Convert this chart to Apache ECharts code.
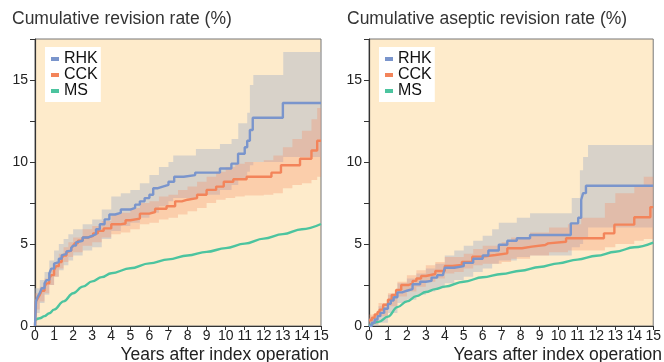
<!DOCTYPE html>
<html>
<head>
<meta charset="utf-8">
<script src="https://cdn.jsdelivr.net/npm/echarts@6/dist/echarts.min.js"></script>
<style>
html,body{margin:0;padding:0;background:#fff;}
#c{width:664px;height:362px;}
</style>
</head>
<body>
<div id="c"></div>
<script>
// ---------- DATA ----------
const titles = ['Cumulative revision rate (%)', 'Cumulative aseptic revision rate (%)'];
const xName = 'Years after index operation';
const seriesNames = ['RHK', 'CCK', 'MS'];

// Left panel: all-cause revision
const L_rhkYears = [0, 0.05, 0.15, 0.25, 0.35, 0.5, 0.6, 0.75, 0.85, 1.0, 1.1, 1.25, 1.4, 1.5, 1.65, 1.75, 1.9, 2.0, 2.15, 2.25, 2.5, 2.8, 3.0, 3.2, 3.4, 3.65, 3.9, 4.2, 4.5, 5.0, 5.25, 5.5, 5.75, 6.0, 6.2, 6.45, 6.7, 7.0, 7.3, 7.8, 8.4, 9.7, 10.3, 10.65, 11.0, 11.13, 11.27, 11.42, 13.0, 15];
const L_rhkVals  = [0, 1.5, 1.8, 2.0, 2.3, 2.6, 2.8, 3.2, 3.5, 3.8, 3.9, 4.1, 4.3, 4.4, 4.55, 4.6, 4.75, 4.9, 5.1, 5.2, 5.4, 5.5, 5.6, 5.9, 6.2, 6.5, 6.8, 6.9, 7.1, 7.2, 7.4, 7.6, 7.8, 8.0, 8.4, 8.5, 8.6, 8.8, 9.1, 9.2, 9.35, 9.6, 9.9, 10.5, 10.9, 11.3, 11.95, 12.7, 13.6, 13.6];
const L_rhkBandYears = [0, 0.25, 0.5, 0.75, 1.0, 1.25, 1.5, 1.75, 2.0, 2.5, 3.0, 3.5, 4.0, 4.5, 5.0, 5.5, 6.0, 6.5, 7.0, 7.25, 8.44, 9.7, 10.31, 10.66, 11.13, 11.27, 11.45, 13.02, 15];
const L_rhkLower = [0.8, 1.4, 1.9, 2.5, 3.0, 3.4, 3.7, 4.0, 4.3, 4.6, 4.8, 5.3, 5.8, 6.1, 6.3, 6.6, 6.9, 7.3, 7.6, 7.8, 8.0, 8.3, 8.6, 9.0, 9.4, 9.8, 10.0, 10.3, 10.3];
const L_rhkUpper = [2.3, 2.8, 3.3, 4.0, 4.6, 5.0, 5.3, 5.6, 5.9, 6.2, 6.5, 7.1, 7.9, 8.1, 8.3, 8.7, 9.2, 9.7, 10.0, 10.4, 10.8, 11.1, 11.4, 12.36, 13.0, 14.7, 15.3, 16.7, 16.7];

const L_cckYears = [0, 0.05, 0.15, 0.25, 0.35, 0.5, 0.6, 0.75, 0.85, 1.0, 1.1, 1.25, 1.4, 1.5, 1.65, 1.75, 1.9, 2.0, 2.1, 2.25, 2.5, 2.8, 3.05, 3.3, 3.6, 4.0, 4.45, 4.75, 5.0, 5.5, 6.0, 6.3, 6.9, 7.35, 7.7, 8.0, 8.5, 9.0, 9.5, 9.9, 10.4, 11.1, 12.4, 12.9, 13.9, 14.5, 14.8, 15];
const L_cckVals  = [0, 1.5, 1.7, 1.9, 2.15, 2.4, 2.6, 2.9, 3.1, 3.4, 3.65, 3.9, 4.15, 4.3, 4.5, 4.6, 4.75, 4.9, 5.05, 5.2, 5.4, 5.5, 5.65, 5.8, 5.95, 6.2, 6.25, 6.45, 6.55, 6.85, 6.95, 7.15, 7.3, 7.6, 7.7, 7.8, 8.0, 8.3, 8.5, 8.8, 8.95, 9.1, 9.35, 9.8, 10.2, 10.7, 11.3, 11.3];
const L_cckBandYears = [0, 0.25, 0.5, 0.75, 1.0, 1.25, 1.5, 1.75, 2.0, 2.5, 3.0, 3.5, 4.0, 4.5, 5.0, 5.5, 6.0, 6.5, 7.0, 7.5, 8.0, 8.5, 9.0, 9.5, 10.0, 10.5, 11.0, 12.0, 12.5, 13.0, 13.5, 14.0, 14.5, 14.8, 15];
const L_cckLower = [1.0, 1.5, 2.0, 2.5, 3.0, 3.5, 3.9, 4.2, 4.5, 4.9, 5.1, 5.4, 5.6, 5.7, 5.9, 6.2, 6.3, 6.5, 6.6, 6.8, 7.0, 7.2, 7.5, 7.7, 7.8, 7.9, 7.95, 8.0, 8.1, 8.4, 8.6, 8.7, 8.9, 9.1, 9.1];
const L_cckUpper = [2.0, 2.4, 2.9, 3.4, 3.9, 4.4, 4.8, 5.1, 5.4, 5.9, 6.1, 6.4, 6.8, 6.9, 7.2, 7.5, 7.6, 7.9, 8.0, 8.3, 8.5, 8.8, 9.1, 9.4, 9.7, 9.9, 10.0, 10.1, 10.4, 10.9, 11.4, 11.9, 12.6, 13.3, 13.3];

const L_msYears = [0, 0.25, 0.5, 0.75, 1, 1.5, 2, 2.5, 3, 3.5, 4, 5, 6, 7, 8, 9, 10, 11, 12, 13, 14, 15];
const L_msVals  = [0.35, 0.47, 0.6, 0.78, 1.0, 1.5, 2.0, 2.4, 2.72, 2.98, 3.22, 3.52, 3.82, 4.06, 4.3, 4.52, 4.75, 5.02, 5.33, 5.6, 5.9, 6.22];

// Right panel: aseptic revision
const R_rhkYears = [0, 0.15, 0.3, 0.45, 0.6, 0.8, 1.0, 1.15, 1.3, 1.5, 1.75, 2.0, 2.3, 2.7, 3.0, 3.3, 3.6, 3.9, 4.0, 4.5, 5.0, 5.5, 6.0, 6.3, 6.85, 7.3, 7.8, 8.5, 10.65, 11.04, 11.2, 11.3, 11.45, 15];
const R_rhkVals  = [0, 0.2, 0.4, 0.6, 0.8, 1.05, 1.35, 1.55, 1.75, 2.05, 2.15, 2.25, 2.55, 2.7, 2.75, 2.95, 3.1, 3.2, 3.55, 3.65, 3.85, 4.1, 4.3, 4.6, 4.95, 5.2, 5.35, 5.55, 6.26, 6.6, 7.7, 8.1, 8.55, 8.55];
const R_rhkBandYears = [0, 0.5, 1.0, 1.5, 2.0, 2.5, 3.0, 3.5, 4.0, 4.5, 5.0, 5.5, 6.0, 6.5, 6.85, 7.8, 8.5, 10.7, 11.13, 11.3, 11.56, 15];
const R_rhkLower = [0, 0.2, 0.8, 1.4, 1.6, 1.9, 2.1, 2.3, 2.6, 2.8, 3.0, 3.3, 3.5, 3.8, 4.0, 4.2, 4.3, 4.8, 5.0, 5.4, 6.0, 6.0];
const R_rhkUpper = [0.5, 1.2, 1.9, 2.6, 2.9, 3.2, 3.5, 3.8, 4.3, 4.6, 4.9, 5.2, 5.5, 5.9, 6.3, 6.6, 6.87, 7.8, 9.5, 10.3, 11.04, 11.04];

const R_cckYears = [0, 0.15, 0.3, 0.45, 0.56, 0.75, 1.0, 1.2, 1.43, 1.7, 2.1, 2.3, 2.5, 2.75, 3.0, 3.5, 4.0, 4.4, 4.9, 5.45, 6.0, 6.67, 7.3, 8.07, 8.6, 9.3, 9.45, 10.4, 12.4, 12.95, 14.0, 14.85, 15];
const R_cckVals  = [0.35, 0.5, 0.7, 0.85, 1.0, 1.3, 1.6, 1.9, 2.2, 2.5, 2.6, 2.75, 2.9, 3.05, 3.17, 3.35, 3.66, 3.72, 3.9, 4.23, 4.33, 4.43, 4.74, 4.84, 4.94, 5.04, 5.14, 5.35, 5.65, 6.18, 6.63, 7.25, 7.25];
const R_cckBandYears = [0, 0.5, 1.0, 1.5, 2.0, 2.5, 3.0, 3.5, 4.0, 4.5, 5.0, 5.5, 6.0, 7.0, 7.5, 8.5, 9.5, 10.5, 11.2, 12.45, 13.0, 14.0, 14.5, 15];
const R_cckLower = [0.1, 0.6, 1.2, 1.8, 2.1, 2.4, 2.7, 2.9, 3.2, 3.3, 3.5, 3.7, 3.8, 3.9, 4.1, 4.3, 4.5, 4.6, 4.6, 4.8, 5.0, 5.2, 5.3, 5.3];
const R_cckUpper = [0.7, 1.4, 2.0, 2.7, 3.1, 3.4, 3.7, 3.9, 4.2, 4.2, 4.4, 4.7, 4.9, 5.1, 5.4, 5.7, 6.0, 6.2, 6.6, 7.5, 8.1, 8.5, 9.1, 9.1];

const R_msYears = [0, 0.5, 1, 1.5, 2, 2.5, 3, 3.5, 4, 5, 6, 7, 8, 9, 10, 11, 12, 13, 14, 15];
const R_msVals  = [0, 0.25, 0.57, 1.15, 1.5, 1.82, 2.07, 2.25, 2.4, 2.7, 2.97, 3.17, 3.37, 3.6, 3.82, 4.05, 4.28, 4.53, 4.8, 5.08];

const xTicks = [0, 1, 2, 3, 4, 5, 6, 7, 8, 9, 10, 11, 12, 13, 14, 15];
const yLabelValues = [0, 5, 10, 15];

// ---------- STYLE ----------
const FONT = '"Liberation Sans", Arial, Helvetica, sans-serif';
const C_RHK = '#7A95CC', C_CCK = '#F3845A', C_MS = '#4CC49F';
const BAND_RHK = 'rgba(170,180,200,0.45)';
const BAND_CCK = 'rgba(245,140,100,0.30)';
const PEACH = '#FEEBCB';

function zip(a, b) { return a.map((v, i) => [v, b[i]]); }

function band(idx, name, yrs, lo, hi, color) {
  return {
    type: 'custom', name: name, xAxisIndex: idx, yAxisIndex: idx, silent: true, z: 1,
    data: [[yrs[0], lo[0]]], encode: { x: 0, y: 1 },
    renderItem: function (params, api) {
      const pts = []; const n = yrs.length;
      for (let i = 0; i < n; i++) {
        pts.push(api.coord([yrs[i], hi[i]]));
        if (i < n - 1) pts.push(api.coord([yrs[i + 1], hi[i]]));
      }
      for (let i = n - 1; i >= 0; i--) {
        if (i < n - 1) pts.push(api.coord([yrs[i + 1], lo[i]]));
        pts.push(api.coord([yrs[i], lo[i]]));
      }
      return { type: 'polygon', shape: { points: pts }, style: { fill: color } };
    }
  };
}
function stepLine(idx, name, yrs, vals, color) {
  return { type: 'line', name: name, xAxisIndex: idx, yAxisIndex: idx, step: 'end', showSymbol: false,
    symbol: 'none', z: 3, lineStyle: { width: 2.4, color: color }, itemStyle: { color: color },
    data: zip(yrs, vals), animation: false };
}
function smoothLine(idx, name, yrs, vals, color) {
  return { type: 'line', name: name, xAxisIndex: idx, yAxisIndex: idx, smooth: 0.4, smoothMonotone: 'x',
    showSymbol: false, symbol: 'none', z: 3, lineStyle: { width: 2.4, color: color }, itemStyle: { color: color },
    data: zip(yrs, vals), animation: false };
}

function xAxisCfg(idx) {
  return { gridIndex: idx, type: 'value', min: xTicks[0], max: xTicks[xTicks.length - 1], interval: 1,
    axisLine: { show: true, onZero: false, lineStyle: { color: '#333', width: 1.2 } },
    axisTick: { show: true, length: 4, lineStyle: { color: '#333' } },
    axisLabel: { fontSize: 14, color: '#222', margin: 3, fontFamily: FONT },
    splitLine: { show: false } };
}
function yAxisCfg(idx) {
  return { gridIndex: idx, type: 'value', min: 0, max: 17.5, interval: 2.5,
    axisLine: { show: true, onZero: false, lineStyle: { color: '#333', width: 1.2 } },
    axisTick: { show: true, length: 5, lineStyle: { color: '#333' } },
    axisLabel: { fontSize: 14, color: '#222', margin: 7, fontFamily: FONT,
      formatter: v => (yLabelValues.indexOf(v) >= 0 ? String(v) : '') },
    splitLine: { show: false } };
}
function legendCfg(left) {
  return { orient: 'vertical', left: left, top: 47, backgroundColor: '#fff', padding: [4, 3, 3, 6],
    itemGap: 0, itemWidth: 8, itemHeight: 4, icon: 'rect', selectedMode: false,
    textStyle: { fontSize: 16, color: '#111', fontFamily: FONT, lineHeight: 16 },
    data: seriesNames.map((n, i) => ({ name: n, itemStyle: { color: [C_RHK, C_CCK, C_MS][i] } })) };
}

const chart = echarts.init(document.getElementById('c'), null, { renderer: 'canvas' });
chart.setOption({
  animation: false,
  backgroundColor: '#fff',
  textStyle: { fontFamily: FONT },
  grid: [
    { left: 35, right: 343, top: 39, bottom: 36, show: true, backgroundColor: PEACH, borderColor: '#777', borderWidth: 1 },
    { left: 369, right: 8, top: 39, bottom: 36, show: true, backgroundColor: PEACH, borderColor: '#777', borderWidth: 1 }
  ],
  xAxis: [xAxisCfg(0), xAxisCfg(1)],
  yAxis: [yAxisCfg(0), yAxisCfg(1)],
  legend: [legendCfg(45), legendCfg(379)],
  graphic: [
    { type: 'text', left: 12, top: 10, style: { text: titles[0], font: '17.5px ' + FONT, fill: '#333' } },
    { type: 'text', left: 347, top: 10, style: { text: titles[1], font: '17.5px ' + FONT, fill: '#333' } },
    { type: 'text', right: 335, top: 346, style: { text: xName, font: '17.5px ' + FONT, fill: '#222' } },
    { type: 'text', right: 2, top: 346, style: { text: xName, font: '17.5px ' + FONT, fill: '#222' } }
  ],
  series: [
    band(0, 'RHK CI', L_rhkBandYears, L_rhkLower, L_rhkUpper, BAND_RHK),
    band(0, 'CCK CI', L_cckBandYears, L_cckLower, L_cckUpper, BAND_CCK),
    smoothLine(0, 'MS', L_msYears, L_msVals, C_MS),
    stepLine(0, 'CCK', L_cckYears, L_cckVals, C_CCK),
    stepLine(0, 'RHK', L_rhkYears, L_rhkVals, C_RHK),
    band(1, 'RHK CI', R_rhkBandYears, R_rhkLower, R_rhkUpper, BAND_RHK),
    band(1, 'CCK CI', R_cckBandYears, R_cckLower, R_cckUpper, BAND_CCK),
    smoothLine(1, 'MS', R_msYears, R_msVals, C_MS),
    stepLine(1, 'CCK', R_cckYears, R_cckVals, C_CCK),
    stepLine(1, 'RHK', R_rhkYears, R_rhkVals, C_RHK)
  ]
});
</script>
</body>
</html>
